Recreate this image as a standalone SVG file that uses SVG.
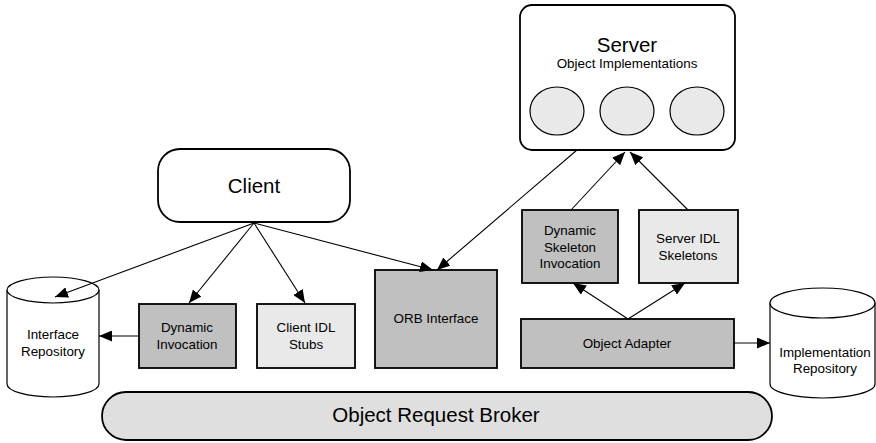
<svg xmlns="http://www.w3.org/2000/svg" width="876" height="443" viewBox="0 0 876 443">
<style>
text{font-family:"Liberation Sans",Arial,sans-serif;fill:#000;text-anchor:middle}
.box{stroke:#000;stroke-width:1.8}
.dark{fill:#c0c0c0}
.light{fill:#e9e9e9}
.white{fill:#fff}
.lbl{font-size:13.4px}
.conn line{stroke:#000;stroke-width:1.1}
.arr{marker-end:url(#ah)}
</style>
<defs>
<marker id="ah" markerWidth="14" markerHeight="11" refX="13" refY="5.5" orient="auto" markerUnits="userSpaceOnUse">
<path d="M0,0 L13,5.5 L0,11 z" fill="#000"/>
</marker>
</defs>

<g id="server">
<rect class="box white" x="520" y="5" width="215" height="145" rx="12" stroke-width="1.4"/>
<text x="627" y="52" font-size="20.5">Server</text>
<text class="lbl" x="627" y="68">Object Implementations</text>
<ellipse cx="557" cy="111" rx="27" ry="24" fill="#e9e9e9" stroke="#000" stroke-width="1.2"/>
<ellipse cx="627" cy="111" rx="27" ry="24" fill="#e9e9e9" stroke="#000" stroke-width="1.2"/>
<ellipse cx="697" cy="111" rx="27" ry="24" fill="#e9e9e9" stroke="#000" stroke-width="1.2"/>
</g>

<g id="client">
<rect class="box white" x="158" y="149" width="192" height="73" rx="22" stroke-width="1.4"/>
<text x="254" y="193" font-size="20.5">Client</text>
</g>

<g id="interface-repository">
<path d="M7,290 L7,384 A46,13 0 0 0 99,384 L99,290" fill="#fff" stroke="#000" stroke-width="1.2"/>
<ellipse cx="53" cy="290" rx="46" ry="13" fill="#fff" stroke="#000" stroke-width="1.2"/>
<text class="lbl" x="53" y="339">Interface</text>
<text class="lbl" x="53" y="356">Repository</text>
</g>

<g id="dynamic-invocation">
<rect class="box dark" x="139" y="304" width="97" height="64"/>
<text class="lbl" x="187" y="332">Dynamic</text>
<text class="lbl" x="187" y="349">Invocation</text>
</g>

<g id="client-idl-stubs">
<rect class="box light" x="257" y="304" width="98" height="64"/>
<text class="lbl" x="306" y="332">Client IDL</text>
<text class="lbl" x="306" y="349">Stubs</text>
</g>

<g id="orb-interface">
<rect class="box dark" x="375" y="270" width="122" height="98"/>
<text class="lbl" x="436" y="323">ORB Interface</text>
</g>

<g id="dynamic-skeleton-invocation">
<rect class="box dark" x="522" y="210" width="96" height="73"/>
<text class="lbl" x="570" y="235">Dynamic</text>
<text class="lbl" x="570" y="252">Skeleton</text>
<text class="lbl" x="570" y="268">Invocation</text>
</g>

<g id="server-idl-skeletons">
<rect class="box light" x="639" y="210" width="99" height="73"/>
<text class="lbl" x="688" y="243">Server IDL</text>
<text class="lbl" x="688" y="260">Skeletons</text>
</g>

<g id="object-adapter">
<rect class="box dark" x="521" y="319" width="213" height="49"/>
<text class="lbl" x="627" y="348">Object Adapter</text>
</g>

<g id="implementation-repository">
<path d="M770,303 L770,384 A52.5,14 0 0 0 875,384 L875,303" fill="#fff" stroke="#000" stroke-width="1.2"/>
<ellipse cx="822.5" cy="303" rx="52.5" ry="15" fill="#fff" stroke="#000" stroke-width="1.2"/>
<text class="lbl" x="825" y="357">Implementation</text>
<text class="lbl" x="825" y="373">Repository</text>
</g>

<g id="object-request-broker">
<rect class="box" x="102" y="392" width="670" height="48" rx="24" fill="#dfdfdf" stroke-width="1.4"/>
<text x="436" y="422" font-size="20.5">Object Request Broker</text>
</g>

<g class="conn" id="connectors">
<line class="arr" x1="254" y1="223" x2="55" y2="297"/>
<line class="arr" x1="254" y1="223" x2="189" y2="303"/>
<line class="arr" x1="254" y1="223" x2="305" y2="303"/>
<line class="arr" x1="254" y1="223" x2="433" y2="270"/>
<line class="arr" x1="577" y1="150" x2="437" y2="270"/>
<line class="arr" x1="139" y1="336" x2="99" y2="336"/>
<line class="arr" x1="571" y1="210" x2="625" y2="152"/>
<line class="arr" x1="688" y1="210" x2="630" y2="152"/>
<line class="arr" x1="628" y1="319" x2="573" y2="283"/>
<line class="arr" x1="628" y1="319" x2="685" y2="283"/>
<line class="arr" x1="734" y1="343" x2="770" y2="343"/>
</g>
</svg>
